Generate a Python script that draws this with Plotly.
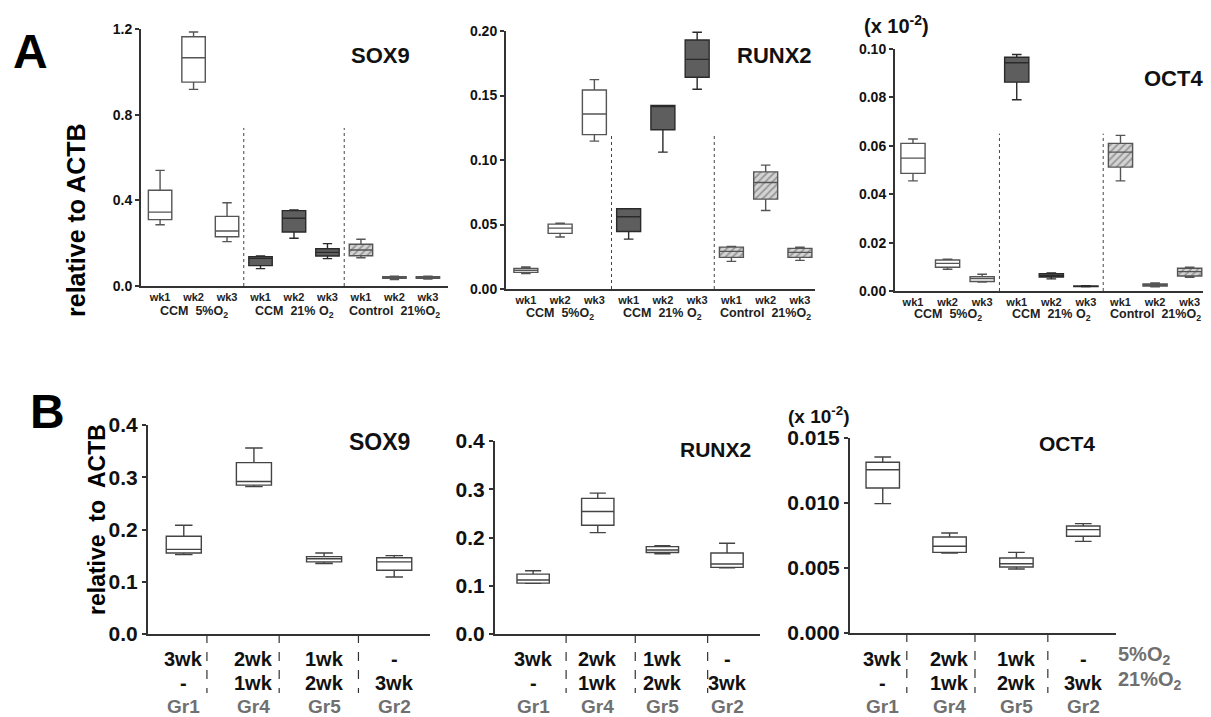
import plotly.graph_objects as go

# ---------------- data ----------------
A_weeks = ["wk1", "wk2", "wk3"]
A_groups = ["CCM  5%O<sub>2</sub>", "CCM  21% O<sub>2</sub>", "Control  21%O<sub>2</sub>"]

# each box: (min, q1, median, q3, max); order CCM5 wk1-3, CCM21 wk1-3, Control21 wk1-3
sox9_A = [
    (0.286, 0.310, 0.345, 0.447, 0.540),
    (0.918, 0.952, 1.066, 1.164, 1.186),
    (0.207, 0.230, 0.257, 0.325, 0.389),
    (0.081, 0.095, 0.129, 0.137, 0.140),
    (0.223, 0.252, 0.316, 0.352, 0.355),
    (0.128, 0.140, 0.157, 0.174, 0.198),
    (0.132, 0.141, 0.168, 0.195, 0.218),
    (0.030, 0.036, 0.040, 0.044, 0.046),
    (0.032, 0.036, 0.040, 0.044, 0.046),
]
runx2_A = [
    (0.0120, 0.0129, 0.0145, 0.0160, 0.0170),
    (0.0403, 0.0431, 0.0472, 0.0503, 0.0511),
    (0.1146, 0.1197, 0.1357, 0.1543, 0.1623),
    (0.0387, 0.0446, 0.0560, 0.0622, 0.0622),
    (0.1061, 0.1234, 0.1420, 0.1422, 0.1422),
    (0.1548, 0.1641, 0.1780, 0.1930, 0.1990),
    (0.0214, 0.0245, 0.0292, 0.0325, 0.0330),
    (0.0609, 0.0697, 0.0826, 0.0908, 0.0960),
    (0.0222, 0.0245, 0.0284, 0.0315, 0.0325),
]
oct4_A = [
    (0.0455, 0.0486, 0.0549, 0.0610, 0.0628),
    (0.0090, 0.0098, 0.0114, 0.0128, 0.0131),
    (0.0037, 0.0039, 0.0051, 0.0059, 0.0069),
    (0.0790, 0.0863, 0.0943, 0.0966, 0.0977),
    (0.0050, 0.0058, 0.0064, 0.0072, 0.0075),
    (0.0017, 0.0018, 0.0020, 0.0021, 0.0022),
    (0.0455, 0.0512, 0.0574, 0.0610, 0.0643),
    (0.0017, 0.0020, 0.0024, 0.0029, 0.0033),
    (0.0057, 0.0062, 0.0080, 0.0094, 0.0098),
]

B_o2_5 = ["3wk", "2wk", "1wk", "-"]
B_o2_21 = ["-", "1wk", "2wk", "3wk"]
B_groups = ["Gr1", "Gr4", "Gr5", "Gr2"]
sox9_B = [
    (0.152, 0.155, 0.162, 0.187, 0.208),
    (0.282, 0.285, 0.292, 0.328, 0.356),
    (0.135, 0.138, 0.144, 0.148, 0.155),
    (0.109, 0.122, 0.138, 0.146, 0.150),
]
runx2_B = [
    (0.105, 0.1055, 0.112, 0.124, 0.131),
    (0.210, 0.2255, 0.254, 0.281, 0.292),
    (0.166, 0.169, 0.174, 0.181, 0.183),
    (0.137, 0.138, 0.145, 0.168, 0.188),
]
oct4_B = [
    (0.00995, 0.01115, 0.01256, 0.01313, 0.01354),
    (0.00615, 0.00620, 0.00667, 0.00738, 0.00769),
    (0.00492, 0.00508, 0.00533, 0.00577, 0.00620),
    (0.00705, 0.00744, 0.00795, 0.00823, 0.00841),
]

# ---------------- layout helpers ----------------
# the page body has an 8px default margin; size the figure so it ends exactly at the window edge
OFF = 8
W, H = 1211 - OFF, 717 - OFF
FONT = "Arial, Liberation Sans, sans-serif"
AX = "#333333"


def fx(p):
    return (p - OFF) / W


def fy(p):
    return 1 - (p - OFF) / H


panels = [
    # A panels
    dict(data=sox9_A, title="SOX9", xdom=(141, 448), ydom=(29, 286), xr=(-0.57, 8.6), yr=(0, 1.2),
         tv=[0, 0.4, 0.8, 1.2], tfmt=".1f", kind="A", tpos=(380, 55), tsize=22, divh=0.738, gy=312),
    dict(data=runx2_A, title="RUNX2", xdom=(506, 815), ydom=(31, 289), xr=(-0.58, 8.44), yr=(0, 0.2),
         tv=[0, 0.05, 0.10, 0.15, 0.20], tfmt=".2f", kind="A", tpos=(774, 55), tsize=22, divh=0.121, gy=314),
    dict(data=oct4_A, title="OCT4", xdom=(895, 1208), ydom=(49, 291), xr=(-0.52, 8.53), yr=(0, 0.1),
         tv=[0, 0.02, 0.04, 0.06, 0.08, 0.10], tfmt=".2f", kind="A", tpos=(1173, 79), tsize=22, divh=0.065,
         gy=315),
    # B panels
    dict(data=sox9_B, title="SOX9", xdom=(148, 430), ydom=(425, 634), xr=(-0.51, 3.51), yr=(0, 0.4),
         tv=[0, 0.1, 0.2, 0.3, 0.4], tfmt=".1f", kind="B", tpos=(379, 442), tsize=23,
         divs=[0.33, 1.36, 2.49]),
    dict(data=runx2_B, title="RUNX2", xdom=(495, 760), ydom=(441, 634), xr=(-0.59, 3.51), yr=(0, 0.4),
         tv=[0, 0.1, 0.2, 0.3, 0.4], tfmt=".1f", kind="B", tpos=(715, 449), tsize=21,
         divs=[0.51, 1.58, 2.70]),
    dict(data=oct4_B, title="OCT4", xdom=(850, 1116), ydom=(438, 633), xr=(-0.49, 3.49), yr=(0, 0.015),
         tv=[0, 0.005, 0.010, 0.015], tfmt=".3f", kind="B", tpos=(1067, 443), tsize=21,
         divs=[0.36, 1.38, 2.47]),
]

fig = go.Figure()
layout = dict(
    width=W, height=H, margin=dict(l=0, r=0, t=0, b=0, autoexpand=False),
    paper_bgcolor="white", plot_bgcolor="white", showlegend=False,
    barmode="overlay", boxmode="overlay",
    font=dict(family=FONT, color="#111"),
)
annotations = []
shapes = []

group_styles = [
    dict(fill="white", line="#555555"),
    dict(fill="#5e5e5e", line="#2a2a2a"),
    dict(fill="rgba(0,0,0,0)", line="#555555"),
]

for k, p in enumerate(panels, start=1):
    xa = "x" if k == 1 else f"x{k}"
    ya = "y" if k == 1 else f"y{k}"
    xkey = "xaxis" if k == 1 else f"xaxis{k}"
    ykey = "yaxis" if k == 1 else f"yaxis{k}"
    A = p["kind"] == "A"
    tick_size = 14 if A else 21

    xaxis = dict(
        domain=[fx(p["xdom"][0]), fx(p["xdom"][1])], range=list(p["xr"]), anchor=ya,
        showgrid=False, zeroline=False, showline=True, linecolor=AX, linewidth=2,
        ticks="", fixedrange=True, automargin=False,
    )
    if A:
        xaxis.update(tickvals=list(range(9)), ticktext=A_weeks * 3,
                     tickfont=dict(size=11, family=FONT, weight="bold", color="#222"))
    else:
        xaxis.update(showticklabels=False)
    layout[xkey] = xaxis
    layout[ykey] = dict(
        domain=[fy(p["ydom"][1]), fy(p["ydom"][0])], range=list(p["yr"]), anchor=xa,
        showgrid=False, zeroline=False, showline=True, linecolor=AX, linewidth=2,
        ticks="outside", ticklen=4, tickwidth=1.5, tickcolor=AX,
        tickvals=p["tv"], tickformat=p["tfmt"], fixedrange=True, automargin=False,
        tickfont=dict(size=tick_size, family=FONT, weight="bold", color="#111"),
    )

    d = p["data"]
    if A:
        for g in range(3):
            sub = d[3 * g:3 * g + 3]
            pos = [3 * g + i for i in range(3)]
            st = group_styles[g]
            if g == 2:
                fig.add_trace(go.Bar(
                    x=pos, y=[s[3] - s[1] for s in sub], base=[s[1] for s in sub], width=0.7,
                    marker=dict(color="#d4d4d4", line=dict(width=0),
                                pattern=dict(shape="/", fgcolor="#5a5a5a", bgcolor="#d4d4d4",
                                             size=5, solidity=0.35)),
                    xaxis=xa, yaxis=ya, hoverinfo="skip", showlegend=False))
            fig.add_trace(go.Box(
                x=pos, lowerfence=[s[0] for s in sub], q1=[s[1] for s in sub],
                median=[s[2] for s in sub], q3=[s[3] for s in sub],
                upperfence=[s[4] for s in sub], orientation="v",
                width=0.7, whiskerwidth=0.4, fillcolor=st["fill"],
                line=dict(color=st["line"], width=1.4), boxpoints=False,
                xaxis=xa, yaxis=ya, hoverinfo="skip", showlegend=False))
            annotations.append(dict(
                text=A_groups[g], x=3 * g + 1, y=fy(p["gy"]), xref=xa, yref="paper",
                showarrow=False, font=dict(size=12.5, family=FONT, weight="bold", color="#222"),
                xanchor="center", yanchor="middle"))
        for dv in (2.5, 5.5):
            shapes.append(dict(type="line", xref=xa, yref=ya, x0=dv, x1=dv, y0=0, y1=p["divh"],
                               line=dict(color="#444", width=1, dash="dot")))
    else:
        pos = list(range(len(d)))
        fig.add_trace(go.Box(
            x=pos, lowerfence=[s[0] for s in d], q1=[s[1] for s in d],
            median=[s[2] for s in d], q3=[s[3] for s in d],
            upperfence=[s[4] for s in d], orientation="v",
            width=0.5, whiskerwidth=0.5, fillcolor="white",
            line=dict(color="#444", width=1.4), boxpoints=False,
            xaxis=xa, yaxis=ya, hoverinfo="skip", showlegend=False))
        for i in pos:
            annotations.append(dict(text=B_o2_5[i], x=i, y=fy(659), xref=xa, yref="paper",
                                    showarrow=False, xanchor="center", yanchor="middle",
                                    font=dict(size=20, family=FONT, weight="bold", color="#111")))
            annotations.append(dict(text=B_o2_21[i], x=i, y=fy(683), xref=xa, yref="paper",
                                    showarrow=False, xanchor="center", yanchor="middle",
                                    font=dict(size=20, family=FONT, weight="bold", color="#111")))
            annotations.append(dict(text=B_groups[i], x=i, y=fy(706), xref=xa, yref="paper",
                                    showarrow=False, xanchor="center", yanchor="middle",
                                    font=dict(size=19, family=FONT, weight="bold", color="#707070")))
        for dv in p["divs"]:
            shapes.append(dict(type="line", xref=xa, yref="paper", x0=dv, x1=dv,
                               y0=fy(p["ydom"][1]), y1=fy(693),
                               line=dict(color="#333", width=1.2, dash="dash")))

    annotations.append(dict(text=p["title"], x=fx(p["tpos"][0]), y=fy(p["tpos"][1]),
                            xref="paper", yref="paper", showarrow=False,
                            xanchor="center", yanchor="middle",
                            font=dict(size=p["tsize"], family=FONT, weight="bold", color="#111")))

# extra texts
extra = [
    dict(text="A", x=fx(30), y=fy(51), size=48),
    dict(text="B", x=fx(47), y=fy(411), size=48),
]
for e in extra:
    annotations.append(dict(text=e["text"], x=e["x"], y=e["y"], xref="paper", yref="paper",
                            showarrow=False, xanchor="center", yanchor="middle",
                            font=dict(size=e["size"], family=FONT, weight="bold", color="#000")))

annotations.append(dict(text="relative to ACTB", x=fx(76), y=fy(220), xref="paper", yref="paper",
                        showarrow=False, textangle=-90, xanchor="center", yanchor="middle",
                        font=dict(size=25, family=FONT, weight="bold", color="#000")))
annotations.append(dict(text="relative  to  ACTB", x=fx(97), y=fy(520), xref="paper", yref="paper",
                        showarrow=False, textangle=-90, xanchor="center", yanchor="middle",
                        font=dict(size=23, family=FONT, weight="bold", color="#000")))
annotations.append(dict(text="(x 10<sup>-2</sup>)", x=fx(896), y=fy(25), xref="paper", yref="paper",
                        showarrow=False, xanchor="center", yanchor="middle",
                        font=dict(size=20, family=FONT, weight="bold", color="#111")))
annotations.append(dict(text="(x 10<sup>-2</sup>)", x=fx(818), y=fy(415), xref="paper", yref="paper",
                        showarrow=False, xanchor="center", yanchor="middle",
                        font=dict(size=19, family=FONT, weight="bold", color="#111")))
annotations.append(dict(text="5%O<sub>2</sub>", x=fx(1116), y=fy(655), xref="paper", yref="paper",
                        showarrow=False, xanchor="left", yanchor="middle",
                        font=dict(size=20, family=FONT, weight="bold", color="#707070")))
annotations.append(dict(text="21%O<sub>2</sub>", x=fx(1116), y=fy(680), xref="paper", yref="paper",
                        showarrow=False, xanchor="left", yanchor="middle",
                        font=dict(size=20, family=FONT, weight="bold", color="#707070")))

layout["annotations"] = annotations
layout["shapes"] = shapes
fig.update_layout(**layout)
fig.write_html("out.html")
